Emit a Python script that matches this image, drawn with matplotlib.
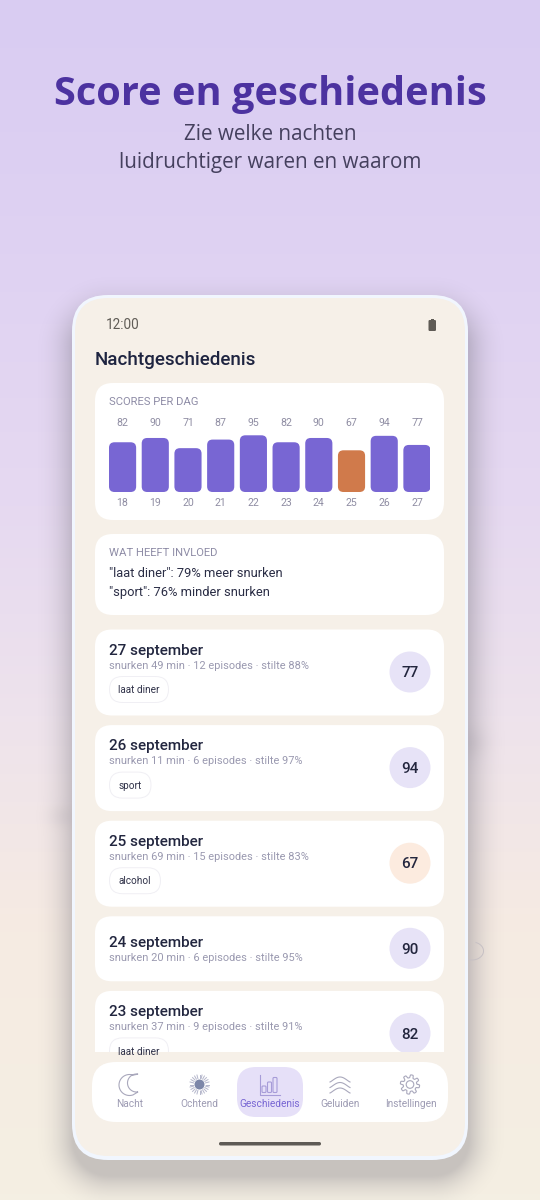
import numpy as np
import matplotlib
matplotlib.use("Agg")
import matplotlib.pyplot as plt
from matplotlib.patches import FancyBboxPatch, Circle, Rectangle, Polygon
from matplotlib.colors import LinearSegmentedColormap, to_rgb

plt.rcParams['font.family'] = ['Roboto', 'DejaVu Sans']

# ---- data ----
days = [18, 19, 20, 21, 22, 23, 24, 25, 26, 27]
scores = [82, 90, 71, 87, 95, 82, 90, 67, 94, 77]
low_day = 25
night_dates = ["27 september", "26 september", "25 september", "24 september", "23 september"]
night_snore = [49, 11, 69, 20, 37]
night_episodes = [12, 6, 15, 6, 9]
night_silence = [88, 97, 83, 95, 91]
night_tags = ["laat diner", "sport", "alcohol", None, "laat diner"]
night_scores = [77, 94, 67, 90, 82]
nav_labels = ["Nacht", "Ochtend", "Geschiedenis", "Geluiden", "Instellingen"]
influence = ['"laat diner": 79% meer snurken', '"sport": 76% minder snurken']

W, H = 540, 1200
fig = plt.figure(figsize=(5.4, 12), dpi=100)
ax = fig.add_axes([0, 0, 1, 1])
ax.set_xlim(0, W); ax.set_ylim(H, 0); ax.axis('off')

def px(s):
    return s * 0.72

def rrect(x0, y0, x1, y1, r, fc, ec='none', lw=0, z=2, alpha=None, clip=None):
    p = FancyBboxPatch((x0 + r, y0 + r), x1 - x0 - 2 * r, y1 - y0 - 2 * r,
                       boxstyle=f"round,pad={r},rounding_size={r}", fc=fc, ec=ec, lw=lw,
                       zorder=z, alpha=alpha)
    ax.add_patch(p)
    if clip is not None:
        p.set_clip_path(clip)
    return p

def txt(x, y, s, size, color, weight='normal', ha='left', family=None, clip=None, z=5):
    t = ax.text(x, y + 1.2, s, fontsize=px(size), color=color, fontweight=weight, ha=ha, va='center',
                zorder=z, family=family if family else ['Roboto', 'DejaVu Sans'])
    if clip is not None:
        t.set_clip_path(clip)
    return t

# ---- background ----
stops = [(0, '#D9CCF2'), (0.18, '#DED1F3'), (0.42, '#E6D9F1'), (0.6, '#EEE3EC'), (0.78, '#F6EBE2'), (1, '#F4EFE3')]
cmap = LinearSegmentedColormap.from_list('bg', stops)
ax.imshow(np.linspace(0, 1, 600)[:, None], extent=[0, W, H, 0], cmap=cmap, aspect='auto', zorder=0)

# soft phone shadow from a distance field, with faint cloud tints next to the phone
gx, gy = np.meshgrid(np.arange(0, W, 2.0), np.arange(0, H, 2.0))
cx, cy, hw, hh, rr = 270, 735, 198, 432, 36
qx = np.abs(gx - cx) - (hw - rr)
qy = np.abs(gy - (cy + 8)) - (hh - rr)
dist = np.hypot(np.maximum(qx, 0), np.maximum(qy, 0)) + np.minimum(np.maximum(qx, qy), 0) - rr
alpha = 0.36 * np.clip(1 - dist / 40, 0, 1) ** 2.2
for ex, ey, sx, sy, a in [(472, 742, 16, 16, 0.07), (60, 815, 14, 11, 0.06)]:
    alpha = alpha + a * np.exp(-((gx - ex) / sx) ** 2 - ((gy - ey) / sy) ** 2)
rgba = np.zeros(gx.shape + (4,))
rgba[..., :3] = to_rgb('#77747E')
rgba[..., 3] = np.clip(alpha, 0, 1)
ax.imshow(rgba, extent=[0, W, H, 0], aspect='auto', zorder=1, interpolation='bilinear')
ax.set_xlim(0, W); ax.set_ylim(H, 0)

# small swirl right of the phone
sw = np.radians(np.linspace(110, -70, 50))
ax.plot(472 + 11.5 * np.cos(sw), 951 + 9 * np.sin(sw), color='#C6C0C4', lw=0.7, zorder=1.5)

# header
txt(270, 93.5, "Score en geschiedenis", 39.7, '#4C32A0', 'bold', 'center', family=['Open Sans'])
txt(270, 133, "Zie welke nachten", 20.6, '#45405E', 'normal', 'center', family=['Open Sans'])
txt(270, 161.5, "luidruchtiger waren en waarom", 20.6, '#45405E', 'normal', 'center', family=['Open Sans'])

# phone body
rrect(72, 295, 468, 1160, 36, '#F1F6FE', z=2)
rrect(75, 298, 465, 1156, 33, '#F6F0E8', z=3)

# status
txt(106, 323.5, "12:00", 13.5, '#5F5B55')
rrect(428.5, 320, 436, 331, 1.2, '#5F5B55', z=5)
ax.add_patch(Rectangle((431, 318.5), 2.6, 2, fc='#5F5B55', zorder=5))
txt(94.5, 358.5, "Nachtgeschiedenis", 18.8, '#1E2440')
ax.texts[-1].set_fontweight(500)

# score card
rrect(95, 383, 444, 520, 18, '#FFFFFF', z=4)
txt(109, 400.5, "SCORES PER DAG", 11.2, '#8E8CA6')

# bars in their own axes: y pixels of bar height scale with score
bar_left, bar_right = 109, 430.5
base_y, top_y = 492, 432
bx = fig.add_axes([bar_left / W, 1 - base_y / H, (bar_right - bar_left) / W, (base_y - top_y) / H])
bx.patch.set_alpha(0); bx.axis('off'); bx.set_zorder(5)
uy = 0.536
v0 = -10.8
bx.set_ylim(v0, v0 + (base_y - top_y) / uy)
n = len(days)
bx.set_xlim(-0.415, n - 0.585)
ux = (bar_right - bar_left) / (n - 0.17)
bw = 0.83
for i, (d, s) in enumerate(zip(days, scores)):
    col = '#D07A4B' if d == low_day else '#7866D3'
    rx = 5.5 / ux
    ry = 5.5 / uy
    b = FancyBboxPatch((i - bw / 2 + rx, v0 + ry), bw - 2 * rx, s - v0 - 2 * ry,
                       boxstyle="round,pad=0", fc=col, ec='none')
    b.set_boxstyle("round", pad=rx, rounding_size=rx)
    bx.add_patch(b)
    b.set_mutation_aspect(ry / rx)
    xc = bar_left + (i + 0.415) * ux
    txt(xc, 422, str(s), 10.5, '#8F8DA3', ha='center')
    txt(xc, 502, str(d), 10.5, '#8F8DA3', ha='center')

# influence card
rrect(95, 534, 444, 615, 18, '#FFFFFF', z=4)
txt(109, 551.5, "WAT HEEFT INVLOED", 11.2, '#8E8CA6')
txt(109, 572, influence[0], 12.9, '#2A2D45')
txt(109, 591, influence[1], 12.9, '#2A2D45')

# night list, clipped at the bottom
clip = Rectangle((80, 620), 380, 432, transform=ax.transData)
y = 629.5
for date, sn, ep, si, tag, sc in zip(night_dates, night_snore, night_episodes, night_silence, night_tags, night_scores):
    h = 86 if tag else 65
    off = 0 if tag else 5
    rrect(95, y, 444, y + h, 17, '#FFFFFF', z=4, clip=clip)
    txt(109, y + 20 + off, date, 15.2, '#22263F', clip=clip)
    ax.texts[-1].set_fontweight(500)
    txt(109, y + 35 + off, f"snurken {sn} min · {ep} episodes · stilte {si}%", 11, '#9A99B0', clip=clip)
    if tag:
        tw = {"laat diner": 59, "sport": 41.5, "alcohol": 51}[tag]
        rrect(109.5, y + 47, 109.5 + tw, y + 73, 13, '#FFFFFF', ec='#F0EFF4', lw=0.7, z=5, clip=clip)
        txt(109.5 + tw / 2, y + 59.5, tag, 10, '#2F3148', ha='center', clip=clip)
    cy = y + h / 2 - 0.5
    c = Circle((410, cy), 20.5, fc='#FCEBDF' if sc == 67 else '#E7E3F7', ec='none', zorder=5)
    ax.add_patch(c); c.set_clip_path(clip)
    txt(410, cy, str(sc), 15.2, '#23263E', ha='center', clip=clip)
    ax.texts[-1].set_fontweight(500)
    y += h + 9.6

# bottom nav
rrect(92, 1062, 448, 1122, 24, '#FFFFFF', z=4)
rrect(237, 1067, 303, 1117, 19, '#E6E0F8', z=5)
nav_x = [129.5, 199.5, 270, 340, 410.5]
for x, lab in zip(nav_x, nav_labels):
    txt(x, 1103, lab, 10.1, '#7866D3' if lab == "Geschiedenis" else '#9D9BB3', ha='center', z=7)

icol = '#A9A8BC'
# moon
ang = np.linspace(np.radians(-70), np.radians(-290), 60)
ox, oy = 129.5 + 10.5 * np.cos(ang), 1085 + 10.5 * np.sin(ang)
ang2 = np.linspace(np.radians(-280), np.radians(-80), 40)
ix, iy = 136.5 + 9 * np.cos(ang2), 1083 + 9 * np.sin(ang2)
ax.add_patch(Polygon(np.c_[np.r_[ox, ix], np.r_[oy, iy]], closed=True, fc='none', ec=icol, lw=0.8, zorder=6))
# sun
ax.add_patch(Circle((199.5, 1084.5), 5, fc='#7C86A8', ec='none', zorder=6))
for a in np.linspace(0, 2 * np.pi, 24, endpoint=False):
    ax.plot([199.5 + 6.2 * np.cos(a), 199.5 + 9.8 * np.cos(a)],
            [1084.5 + 6.2 * np.sin(a), 1084.5 + 9.8 * np.sin(a)], color='#B4B6CB', lw=0.7, zorder=6)
# chart icon
ic = '#A79CD8'
ax.plot([259.5, 259.5, 279.5], [1075, 1094.5, 1094.5], color=ic, lw=0.8, zorder=6)
for bxx, by in zip([262, 267.5, 273], [1086, 1082, 1077.5]):
    rrect(bxx, by, bxx + 4, 1092.5, 1, 'none', ec=ic, lw=0.8, z=6)
# waves
for dy in [0, 5.5, 11]:
    xs = np.linspace(330, 350, 40)
    ys = 1082 + dy - 5 * np.cos((xs - 340) / 10 * np.pi / 2) ** 1.2
    ax.plot(xs, ys, color=icol, lw=0.8, zorder=6)
# gear
th = np.linspace(0, 2 * np.pi, 400)
rg = 8.2 + 1.5 * np.tanh(3 * np.sin(8 * th))
ax.plot(410 + rg * np.cos(th), 1084.5 + rg * np.sin(th), color=icol, lw=0.8, zorder=6)
ax.add_patch(Circle((410, 1084.5), 3.8, fc='none', ec=icol, lw=0.8, zorder=6))

# home indicator
rrect(219, 1142, 321, 1145.5, 1.7, '#5E5A55', z=5)

fig.savefig("out.png", dpi=100)
